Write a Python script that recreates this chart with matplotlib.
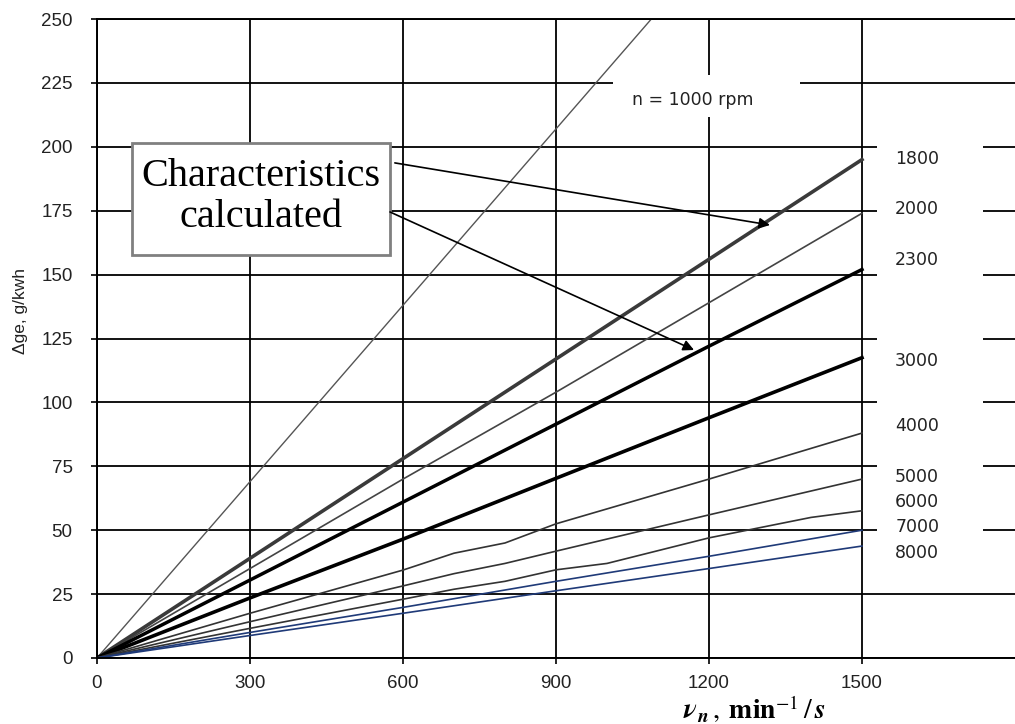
import matplotlib
matplotlib.use("Agg")
import matplotlib.pyplot as plt
from matplotlib.patches import Rectangle
from matplotlib import font_manager

# ---------------- data ----------------
x_lin = [0, 300, 600, 900, 1200, 1500]
x_1000 = [0, 300, 600, 900, 1500]
y_1000 = [0, 69, 138, 207, 345]
y_1800 = [0, 39, 78, 117, 156, 195]
y_2000 = [0, 35, 70, 104, 139, 174]
y_2300 = [0, 30.5, 61, 91.5, 122, 152]
y_3000 = [0, 23.5, 46.5, 70.3, 94, 117.5]
x_4000 = [0, 300, 600, 700, 800, 900, 1200, 1500]
y_4000 = [0, 17.5, 34.4, 41, 45, 52.5, 70, 88]
x_5000 = [0, 300, 600, 700, 800, 900, 1200, 1500]
y_5000 = [0, 14.2, 28.2, 33, 37, 41.8, 56, 70]
x_6000 = [0, 300, 600, 700, 800, 900, 1000, 1200, 1400, 1500]
y_6000 = [0, 11.6, 23, 26.9, 30, 34.5, 37, 47, 55, 57.6]
y_7000 = [0, 10, 19.8, 30, 39.8, 50]
y_8000 = [0, 8.8, 17.5, 26.3, 35, 43.8]

curve_labels = ["1800", "2000", "2300", "3000", "4000", "5000", "6000", "7000", "8000"]
label_y = [195.2, 175.7, 155.7, 116.2, 90.8, 70.8, 61.0, 51.3, 41.1]

x_ticks = [0, 300, 600, 900, 1200, 1500]
y_ticks = [0, 25, 50, 75, 100, 125, 150, 175, 200, 225, 250]

# ---------------- figure ----------------
W, H = 1015, 724
fig = plt.figure(figsize=(W / 100, H / 100), dpi=100)
ax = fig.add_axes([97 / W, 66 / H, 918 / W, 639 / H])
ax.set_xlim(0, 1800)
ax.set_ylim(0, 250)

names = {f.name for f in font_manager.fontManager.ttflist}
narrow = "Liberation Sans Narrow" if "Liberation Sans Narrow" in names else "Liberation Sans"

ax.set_axisbelow(True)
ax.grid(True, color="black", lw=1.3)
ax.set_xticks(x_ticks)
ax.set_yticks(y_ticks)
ax.tick_params(axis="both", direction="out", length=4.5, width=1.2, color="black")
ax.tick_params(axis="y", pad=13)
ax.tick_params(axis="x", pad=8)
for lab in ax.get_yticklabels():
    lab.set_fontfamily("Liberation Sans")
    lab.set_fontsize(13.5)
    lab.set_color("#222222")
for lab in ax.get_xticklabels():
    lab.set_fontfamily(narrow)
    lab.set_fontsize(14.5 if narrow != "Liberation Sans" else 13.5)
    lab.set_color("#222222")

for s in ["left", "bottom", "top"]:
    ax.spines[s].set_linewidth(1.4)
    ax.spines[s].set_color("black")
ax.spines["right"].set_visible(False)

# white blanking areas behind the labels (cover grid lines)
ax.add_patch(Rectangle((1529, 46), 208, 159, facecolor="white", edgecolor="none", zorder=1.5))
ax.add_patch(Rectangle((1012, 211.7), 366, 16.4, facecolor="white", edgecolor="none", zorder=1.5))

# ---------------- curves ----------------
ax.plot(x_1000, y_1000, color="#555555", lw=1.0, zorder=2)
ax.plot(x_lin, y_1800, color="#3a3a3a", lw=2.6, zorder=2)
ax.plot(x_lin, y_2000, color="#444444", lw=1.2, zorder=2)
ax.plot(x_lin, y_2300, color="black", lw=2.5, zorder=2)
ax.plot(x_lin, y_3000, color="black", lw=2.6, zorder=2)
ax.plot(x_4000, y_4000, color="#333333", lw=1.2, zorder=2)
ax.plot(x_5000, y_5000, color="#333333", lw=1.2, zorder=2)
ax.plot(x_6000, y_6000, color="#333333", lw=1.2, zorder=2)
ax.plot(x_lin, y_7000, color="#1f3a78", lw=1.2, zorder=2)
ax.plot(x_lin, y_8000, color="#1f3a78", lw=1.2, zorder=2)

# curve labels
for t, yy in zip(curve_labels, label_y):
    ax.text(1565, yy, t, ha="left", va="center", fontsize=12.5,
            family="DejaVu Sans", color="#222222", zorder=3)
ax.text(1049, 218.3, "n = 1000 rpm", ha="left", va="center", fontsize=12.5,
        family="DejaVu Sans", color="#222222", zorder=3)

# ---------------- annotation box ----------------
ax.add_patch(Rectangle((69, 157.7), 505.5, 43.8, facecolor="white",
                       edgecolor="#808080", lw=2.0, zorder=4))
ax.text(321, 168.6, "Characteristics\ncalculated", ha="center", va="baseline",
        multialignment="center", fontsize=29, family="Liberation Serif",
        linespacing=1.15, color="black", zorder=5)
arrow_kw = dict(arrowstyle="-|>", lw=1.2, color="black", mutation_scale=16,
                shrinkA=0, shrinkB=0)
ax.annotate("", xy=(1319.6, 169.4), xytext=(584, 193.7), arrowprops=arrow_kw, zorder=5)
ax.annotate("", xy=(1170.6, 120.5), xytext=(574.5, 174.5), arrowprops=arrow_kw, zorder=5)

# ---------------- axis labels ----------------
fig.text(21 / W, 1 - 311 / H, "\u0394ge, g/kwh", rotation=90, ha="center", va="center",
         fontsize=12.5, family="Liberation Sans", color="#222222")
fig.text(683 / W, 5 / H,
         r"$\mathbfit{\nu}_{\mathbfit{n}}\,,\;\mathbf{min}^{-1}\,/\,\mathbfit{s}$",
         ha="left", va="baseline", fontsize=20, math_fontfamily="stix", color="black")

fig.savefig("out.png", dpi=100)
